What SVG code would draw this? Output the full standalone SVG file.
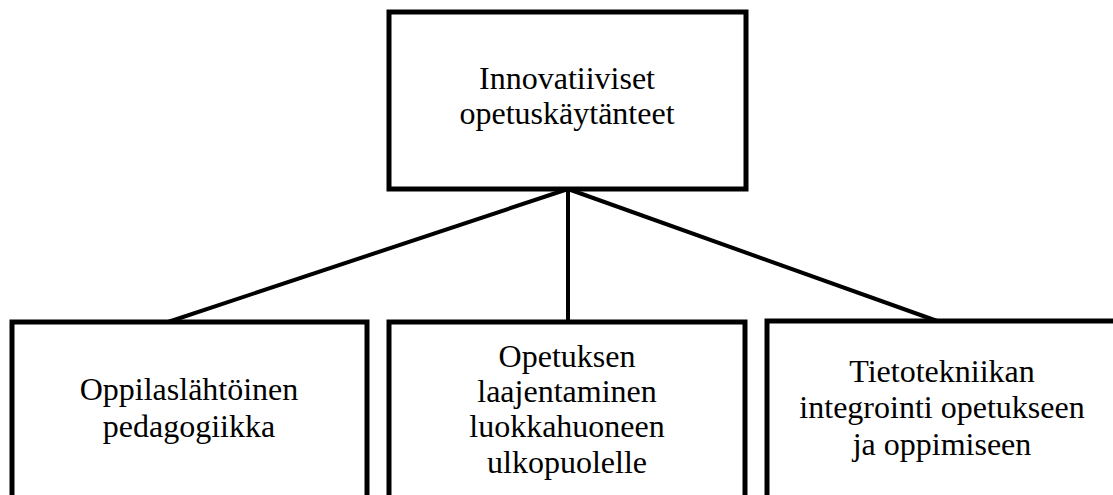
<svg xmlns="http://www.w3.org/2000/svg" width="1113" height="495" viewBox="0 0 1113 495">
<style>
.box{fill:#fff;stroke:#000;stroke-width:5}
.conn{stroke:#000;stroke-width:4;fill:none}
text{font-family:"Liberation Serif","DejaVu Serif",serif;font-size:32px;fill:#000;text-anchor:middle}
</style>
<rect width="1113" height="495" fill="#fff"/>
<g id="connectors">
<line class="conn" x1="568" y1="189" x2="168" y2="322"/>
<line class="conn" x1="568" y1="189" x2="568" y2="322"/>
<line class="conn" x1="568" y1="189" x2="940" y2="322"/>
</g>
<g id="node-top">
<rect class="box" x="389" y="12" width="357" height="177"/>
<text x="567" y="89">Innovatiiviset</text>
<text x="567" y="124">opetuskäytänteet</text>
</g>
<g id="node-left">
<rect class="box" x="12" y="322" width="355" height="190"/>
<text x="189" y="400">Oppilaslähtöinen</text>
<text x="189" y="437">pedagogiikka</text>
</g>
<g id="node-middle">
<rect class="box" x="389" y="322" width="356" height="190"/>
<text x="567" y="367">Opetuksen</text>
<text x="567" y="402">laajentaminen</text>
<text x="567" y="437">luokkahuoneen</text>
<text x="567" y="473">ulkopuolelle</text>
</g>
<g id="node-right">
<rect class="box" x="767" y="321" width="352" height="190"/>
<text x="942" y="382">Tietotekniikan</text>
<text x="942" y="418">integrointi opetukseen</text>
<text x="942" y="455">ja oppimiseen</text>
</g>
</svg>
